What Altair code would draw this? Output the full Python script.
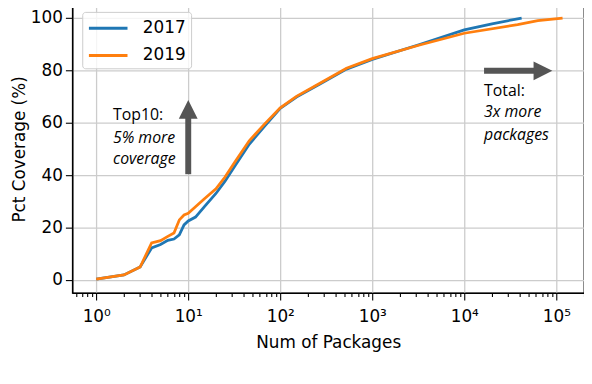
import altair as alt
import pandas as pd

years = ["2017", "2019"]
colors = ["#1f77b4", "#ff7f0e"]

pk_2017 = [1, 2, 3, 4, 5, 6, 7, 8, 9, 10, 12, 15, 20, 25, 32, 46, 67, 100, 150, 270, 525, 1000, 3200, 10000, 20000, 42000]
cov_2017 = [0.3, 1.9, 4.9, 12.2, 13.5, 15.1, 15.6, 17.2, 21.0, 22.5, 24.0, 28.0, 33.0, 37.6, 43.4, 51.8, 58.5, 65.5, 69.8, 74.8, 80.5, 84.2, 89.8, 95.5, 97.8, 100]

pk_2019 = [1, 2, 3, 4, 5, 6, 7, 8, 9, 10, 12, 15, 20, 25, 32, 46, 67, 100, 150, 270, 525, 1000, 3200, 10000, 38000, 63000, 117000]
cov_2019 = [0.3, 1.9, 4.9, 14.1, 15.0, 16.6, 17.9, 22.9, 24.8, 25.4, 27.9, 31.0, 34.8, 39.2, 44.9, 53.1, 59.4, 65.7, 70.1, 75.1, 80.8, 84.5, 89.6, 94.2, 97.5, 99.0, 100]

y_ticks = [0, 20, 40, 60, 80, 100]

# annotations
note_normal = pd.DataFrame({"x": [1.52, 16400], "y": [62.85, 72.3], "t": ["Top10:", "Total:"]})
note_italic = pd.DataFrame({"x": [1.52, 1.52, 16400, 16400], "y": [54.35, 46.03, 64.17, 55.48],
                            "t": ["5% more", "coverage", "3x more", "packages"]})
shaft_v = pd.DataFrame({"x": [10], "y": [40.36], "y2": [63.8]})
shaft_h = pd.DataFrame({"x": [16400], "x2": [66000], "y": [79.86]})
head_up = pd.DataFrame({"x": [10], "y": [65.12]})
head_right = pd.DataFrame({"x": [71600], "y": [79.86]})

rows = []
for yr, xs, ys in [("2017", pk_2017, cov_2017), ("2019", pk_2019, cov_2019)]:
    for a, b in zip(xs, ys):
        rows.append({"year": yr, "n": a, "cov": b})
df = pd.DataFrame(rows)

x_ticks = []
for d in range(-1, 6):
    for m in range(1, 10):
        v = m * 10 ** d
        if 0.55 <= v <= 200000:
            x_ticks.append(round(v, 6))

major = "abs(log(datum.value)/LN10 - round(log(datum.value)/LN10)) < 0.001"
label_expr = major + " ? '10' + ['\u2070','\u00b9','\u00b2','\u00b3','\u2074','\u2075'][round(log(datum.value)/LN10)] : ''"

xscale = alt.Scale(type="log", domain=[0.55, 200000], nice=False)
yscale = alt.Scale(domain=[-5, 105], nice=False, zero=False)

xaxis = alt.Axis(values=x_ticks, labelExpr=label_expr, labelOverlap=False, labelFlush=False,
                 tickSize={"condition": {"test": major, "value": 7}, "value": 3.5},
                 gridOpacity={"condition": {"test": major, "value": 1}, "value": 0},
                 title="Num of Packages", titlePadding=10, labelPadding=9)
yaxis = alt.Axis(values=y_ticks, tickSize=7, title="Pct Coverage (%)", titlePadding=2, labelPadding=3)

lines = alt.Chart(df).mark_line(strokeWidth=2.8).encode(
    x=alt.X("n:Q", scale=xscale, axis=xaxis),
    y=alt.Y("cov:Q", scale=yscale, axis=yaxis),
    color=alt.Color("year:N", scale=alt.Scale(domain=years, range=colors),
                    legend=alt.Legend(orient="none", legendX=10, legendY=7, title=None,
                                      symbolType="M-2,0L2,0", symbolStrokeWidth=3, symbolSize=380,
                                      symbolOffset=9.75,
                                      labelFontSize=17, labelFont="DejaVu Sans", labelColor="black",
                                      strokeColor="#cccccc", fillColor="rgba(255,255,255,0.8)",
                                      padding=5, cornerRadius=3, rowPadding=7.5, labelOffset=23.5)),
)

txt_n = alt.Chart(note_normal).mark_text(font="Open Sans", fontSize=16, align="left", baseline="middle",
                                         color="black").encode(
    x=alt.X("x:Q", scale=xscale), y=alt.Y("y:Q", scale=yscale), text="t:N")
txt_i = alt.Chart(note_italic).mark_text(font="Open Sans", fontSize=16, fontStyle="italic", align="left",
                                         baseline="middle", color="black").encode(
    x=alt.X("x:Q", scale=xscale), y=alt.Y("y:Q", scale=yscale), text="t:N")

sv = alt.Chart(shaft_v).mark_rule(strokeWidth=6, color="#555555").encode(
    x=alt.X("x:Q", scale=xscale), y=alt.Y("y:Q", scale=yscale), y2="y2:Q")
sh = alt.Chart(shaft_h).mark_rule(strokeWidth=6, color="#555555").encode(
    x=alt.X("x:Q", scale=xscale), x2="x2:Q", y=alt.Y("y:Q", scale=yscale))
hu = alt.Chart(head_up).mark_point(shape="M0,-1L1,1L-1,1Z", size=361, filled=True, opacity=1,
                                   color="#555555", strokeWidth=0).encode(
    x=alt.X("x:Q", scale=xscale), y=alt.Y("y:Q", scale=yscale))
hr = alt.Chart(head_right).mark_point(shape="M1,0L-1,-1L-1,1Z", size=361, filled=True, opacity=1,
                                      color="#555555", strokeWidth=0).encode(
    x=alt.X("x:Q", scale=xscale), y=alt.Y("y:Q", scale=yscale))

chart = alt.layer(lines, sv, sh, hu, hr, txt_n, txt_i).properties(
    width=517, height=291,
    autosize=alt.AutoSizeParams(type="none"),
    padding={"left": 65, "top": -5, "right": 0, "bottom": 84},
).configure_view(stroke="black", strokeWidth=1.3).configure_axis(
    labelFont="DejaVu Sans", labelFontSize=17, labelColor="black",
    titleFont="DejaVu Sans", titleFontSize=17, titleFontWeight="normal", titleColor="black",
    domainColor="black", domainWidth=1.3, tickColor="black", tickWidth=1.1,
    gridColor="#cccccc", gridWidth=1.3,
)

chart.save("out.html", embed_options={"renderer": "svg", "actions": False})
